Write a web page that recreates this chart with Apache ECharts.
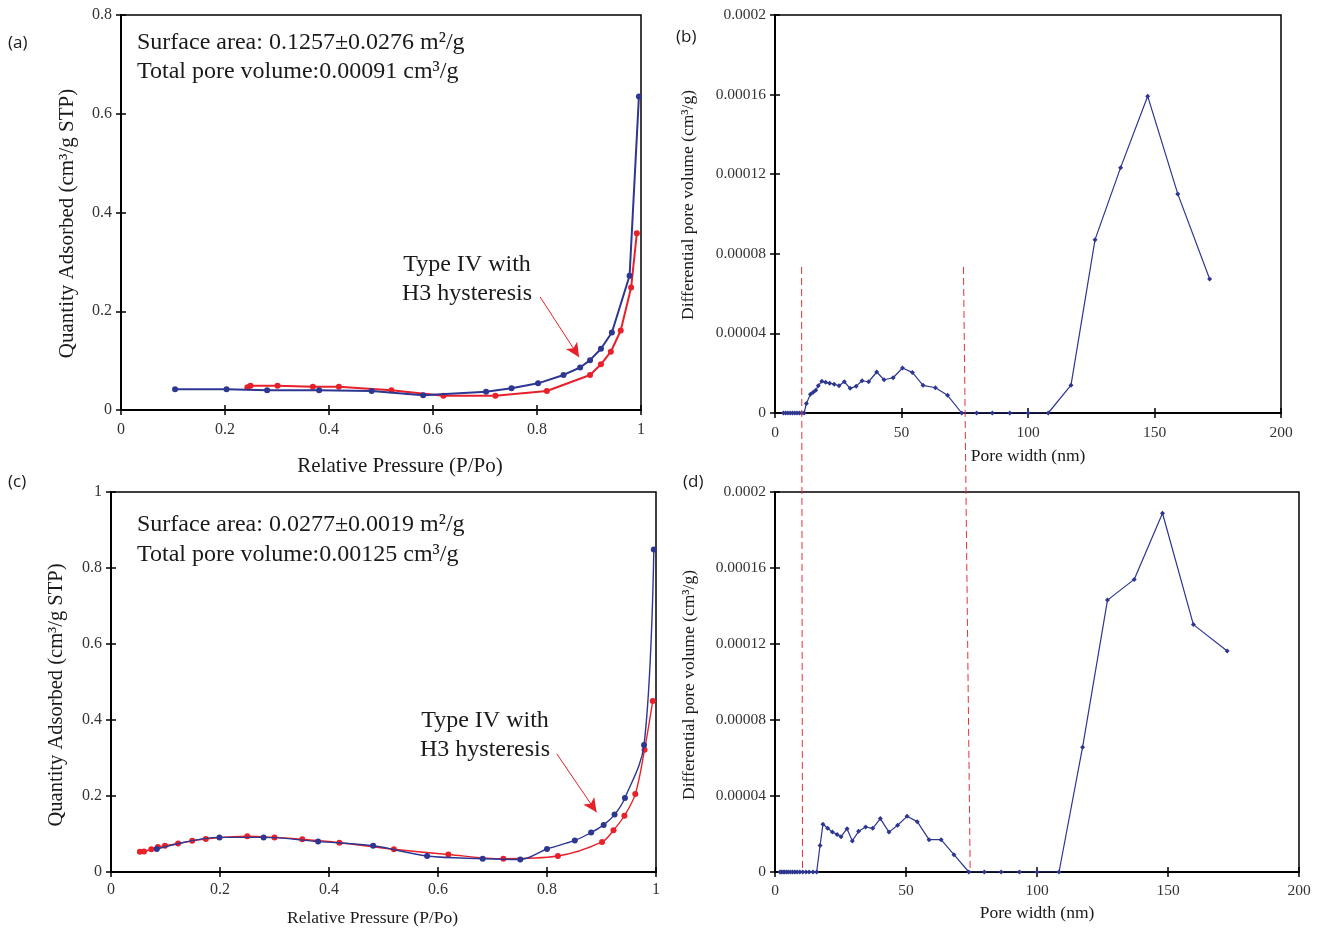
<!DOCTYPE html>
<html>
<head>
<meta charset="utf-8">
<script src="https://cdn.jsdelivr.net/npm/echarts@6/dist/echarts.min.js"></script>
<style>
  html, body { margin: 0; padding: 0; background: #ffffff; }
  #chart { width: 1322px; height: 932px; }
</style>
</head>
<body>
<div id="chart"></div>
<script>
// ---- Sample 1 isotherm (panel a) ----
const isoA_adsP = [0.104, 0.203, 0.281, 0.381, 0.482, 0.581, 0.702, 0.751, 0.802, 0.851, 0.883, 0.902, 0.923, 0.944, 0.978, 0.996];
const isoA_adsQ = [0.042, 0.042, 0.040, 0.040, 0.0385, 0.030, 0.037, 0.044, 0.054, 0.071, 0.086, 0.101, 0.124, 0.157, 0.272, 0.635];
const isoA_desP = [0.992, 0.981, 0.961, 0.942, 0.923, 0.902, 0.819, 0.720, 0.620, 0.520, 0.419, 0.369, 0.301, 0.249, 0.243];
const isoA_desQ = [0.358, 0.248, 0.161, 0.118, 0.0925, 0.071, 0.0385, 0.029, 0.029, 0.040, 0.047, 0.047, 0.049, 0.049, 0.046];

// ---- Sample 2 isotherm (panel c) ----
const isoC_adsP = [0.084, 0.199, 0.280, 0.380, 0.481, 0.580, 0.682, 0.751, 0.800, 0.851, 0.881, 0.904, 0.924, 0.943, 0.978, 0.996];
const isoC_adsQ = [0.0605, 0.091, 0.091, 0.080, 0.069, 0.042, 0.035, 0.033, 0.0605, 0.083, 0.104, 0.124, 0.151, 0.195, 0.334, 0.849];
const isoC_desP = [0.994, 0.979, 0.962, 0.942, 0.922, 0.901, 0.820, 0.720, 0.619, 0.519, 0.419, 0.351, 0.300, 0.250, 0.174, 0.149, 0.123, 0.099, 0.086, 0.074, 0.0606, 0.053];
const isoC_desQ = [0.450, 0.322, 0.205, 0.148, 0.110, 0.079, 0.042, 0.035, 0.046, 0.060, 0.077, 0.086, 0.091, 0.094, 0.087, 0.082, 0.075, 0.069, 0.066, 0.060, 0.054, 0.0535];

// ---- Pore size distributions (panels b, d) ----
const psdB_width = [3.3, 4.2, 5.1, 6.0, 6.9, 7.8, 8.7, 9.6, 10.5, 11.5,
  12.4, 14.0, 15.1, 16.1, 17.1, 18.5, 20.0, 21.6, 23.4, 25.3,
  27.4, 29.7, 32.1, 34.4, 37.0, 40.2, 43.1, 46.7, 50.4, 54.3,
  58.5, 63.4, 68.2, 73.8, 79.7, 85.9, 92.8, 100.1, 108.0,
  117.0, 126.5, 136.6, 147.3, 159.2, 171.8];
const psdB_volume = [0, 0, 0, 0, 0, 0, 0, 0, 0, 0,
  4.8e-6, 9.4e-6, 1.04e-5, 1.14e-5, 1.37e-5, 1.59e-5, 1.54e-5, 1.50e-5, 1.45e-5, 1.37e-5,
  1.57e-5, 1.24e-5, 1.35e-5, 1.62e-5, 1.57e-5, 2.06e-5, 1.67e-5, 1.77e-5, 2.26e-5, 2.04e-5,
  1.39e-5, 1.27e-5, 8.9e-6, 0, 0, 0, 0, 0, 0,
  1.40e-5, 8.71e-5, 1.233e-4, 1.592e-4, 1.101e-4, 6.73e-5];

const psdD_width = [1.9, 2.5, 3.1, 3.7, 4.4, 5.1, 5.9, 6.7, 7.6, 8.5, 9.5, 10.6, 11.8, 13.0, 14.5, 15.9,
  17.2, 18.3, 20.1, 21.9, 23.7, 25.2, 27.5, 29.5, 31.9, 34.6,
  37.3, 40.2, 43.5, 46.8, 50.4, 54.3, 58.8, 63.4, 68.3, 74.0,
  79.9, 86.3, 93.3, 100.0, 108.4,
  117.4, 126.9, 137.1, 147.9, 159.7, 172.6];
const psdD_volume = [0, 0, 0, 0, 0, 0, 0, 0, 0, 0, 0, 0, 0, 0, 0, 0,
  1.40e-5, 2.51e-5, 2.30e-5, 2.10e-5, 1.98e-5, 1.86e-5, 2.28e-5, 1.63e-5, 2.14e-5, 2.37e-5,
  2.30e-5, 2.81e-5, 2.10e-5, 2.46e-5, 2.93e-5, 2.65e-5, 1.70e-5, 1.70e-5, 9.1e-6, 0,
  0, 0, 0, 0, 0,
  6.57e-5, 1.431e-4, 1.540e-4, 1.888e-4, 1.302e-4, 1.163e-4];

// Mesopore window boundaries (nm) and the height where the guides start
const poreWindow = [10.5, 74.5];
const poreWindowTop = 7.34e-5;

// Hysteresis arrows: [start, tip] in data coordinates
const arrowA = [[0.806, 0.229], [0.881, 0.107]];
const arrowC = [[0.818, 0.311], [0.891, 0.157]];

// Text blocks
const infoA = ['Surface area: 0.1257±0.0276 m²/g', 'Total pore volume:0.00091 cm³/g'];
const infoC = ['Surface area: 0.0277±0.0019 m²/g', 'Total pore volume:0.00125 cm³/g'];
const hystText = 'Type IV with\nH3 hysteresis';

const zip = (xs, ys) => xs.map((x, i) => [x, ys[i]]);

const BLUE = '#2d3691';
const RED = '#e8202a';
const INK = '#1a1a1a';
const TICK_INK = '#333333';
const SERIF = '"Liberation Serif", "Times New Roman", serif';
const SANS = '"Open Sans", "Noto Sans", sans-serif';

const grids = [
  { left: 121, top: 15, width: 520, height: 395 },
  { left: 775, top: 15, width: 506, height: 398 },
  { left: 111, top: 492, width: 545, height: 380 },
  { left: 775, top: 492, width: 524, height: 380 }
].map(g => Object.assign(g, {
  show: true, borderColor: '#000', borderWidth: 1.5, backgroundColor: 'transparent',
  containLabel: false, outerBoundsMode: 'none'
}));

const psdFmt = v => v === 0 ? '0' : v.toFixed(5).replace(/0+$/, '');

function nameStyle(size, padding) {
  return { fontFamily: SERIF, fontSize: size, color: INK, padding: padding || 0 };
}
function mainX(idx, min, max, interval, name, nameGap, nameStyleObj, labelSize, labelMargin) {
  return {
    type: 'value', gridIndex: idx, min, max, interval, position: 'bottom',
    name, nameLocation: 'middle', nameGap, nameTextStyle: nameStyleObj,
    axisLine: { show: true, onZero: false, lineStyle: { color: '#000', width: 2 } },
    axisTick: { show: true, inside: false, length: 5, lineStyle: { color: '#000', width: 1.5 } },
    axisLabel: { fontFamily: SERIF, fontSize: labelSize, color: TICK_INK, margin: labelMargin },
    splitLine: { show: false }
  };
}
function mainY(idx, min, max, interval, name, nameGap, nameStyleObj, labelSize, formatter) {
  const label = { fontFamily: SERIF, fontSize: labelSize, color: TICK_INK, margin: 9 };
  if (formatter) label.formatter = formatter;
  return {
    type: 'value', gridIndex: idx, min, max, interval, position: 'left',
    name, nameLocation: 'middle', nameGap, nameTextStyle: nameStyleObj,
    axisLine: { show: true, onZero: false, lineStyle: { color: '#000', width: 2 } },
    axisTick: { show: true, inside: false, length: 5, lineStyle: { color: '#000', width: 1.5 } },
    axisLabel: label,
    splitLine: { show: false }
  };
}
// Inner halves of the crossing tick marks
function tickX(idx, min, max, interval) {
  return { type: 'value', gridIndex: idx, min, max, interval, position: 'bottom',
    axisLine: { show: false }, axisLabel: { show: false }, splitLine: { show: false },
    axisTick: { show: true, inside: true, length: 5, lineStyle: { color: '#000', width: 1.5 } } };
}
function tickY(idx, min, max, interval) {
  return { type: 'value', gridIndex: idx, min, max, interval, position: 'left',
    axisLine: { show: false }, axisLabel: { show: false }, splitLine: { show: false },
    axisTick: { show: true, inside: true, length: 5, lineStyle: { color: '#000', width: 1.5 } } };
}

const xAxes = [
  mainX(0, 0, 1, 0.2, 'Relative Pressure (P/Po)', 46, nameStyle(21, [0, 0, 0, 38]), 16, 12),
  mainX(1, 0, 200, 50, 'Pore width (nm)', 34, nameStyle(17.5), 15.5, 12),
  mainX(2, 0, 1, 0.2, 'Relative Pressure (P/Po)', 37, nameStyle(17.5, [0, 22, 0, 0]), 16, 10),
  mainX(3, 0, 200, 50, 'Pore width (nm)', 32, nameStyle(17.5), 15.5, 11),
  tickX(0, 0, 1, 0.2), tickX(1, 0, 200, 50), tickX(2, 0, 1, 0.2), tickX(3, 0, 200, 50)
];
const yAxes = [
  mainY(0, 0, 0.8, 0.2, 'Quantity Adsorbed (cm³/g STP)', 43, nameStyle(21, [0, 22, 0, 0]), 16),
  mainY(1, 0, 0.0002, 0.00004, 'Differential pore volume (cm³/g)', 78, nameStyle(17.5, [0, 0, 0, 18]), 15.5, psdFmt),
  mainY(2, 0, 1, 0.2, 'Quantity Adsorbed (cm³/g STP)', 44, nameStyle(20.5, [0, 26, 0, 0]), 16),
  mainY(3, 0, 0.0002, 0.00004, 'Differential pore volume (cm³/g)', 77, nameStyle(17.5, [0, 6, 0, 0]), 15.5, psdFmt),
  tickY(0, 0, 0.8, 0.2), tickY(1, 0, 0.0002, 0.00004), tickY(2, 0, 1, 0.2), tickY(3, 0, 0.0002, 0.00004)
];

function arrowMark(pts) {
  return {
    silent: true, symbol: ['none', 'arrow'], symbolSize: [10, 14], precision: 4,
    label: { show: false },
    lineStyle: { color: RED, width: 1, type: 'solid' },
    data: [[{ coord: pts[0] }, { coord: pts[1] }]]
  };
}

const series = [
  { type: 'line', xAxisIndex: 0, yAxisIndex: 0, data: zip(isoA_desP, isoA_desQ), color: RED,
    symbol: 'circle', symbolSize: 6, lineStyle: { width: 2, color: RED }, itemStyle: { color: RED },
    z: 2, markLine: arrowMark(arrowA) },
  { type: 'line', xAxisIndex: 0, yAxisIndex: 0, data: zip(isoA_adsP, isoA_adsQ), color: BLUE,
    symbol: 'circle', symbolSize: 6, lineStyle: { width: 2, color: BLUE }, itemStyle: { color: BLUE }, z: 3 },
  { type: 'line', xAxisIndex: 2, yAxisIndex: 2, data: zip(isoC_desP, isoC_desQ), color: RED, smooth: 0.35,
    symbol: 'circle', symbolSize: 6, lineStyle: { width: 1.4, color: RED }, itemStyle: { color: RED },
    z: 2, markLine: arrowMark(arrowC) },
  { type: 'line', xAxisIndex: 2, yAxisIndex: 2, data: zip(isoC_adsP, isoC_adsQ), color: BLUE, smooth: 0.35,
    symbol: 'circle', symbolSize: 6, lineStyle: { width: 1.4, color: BLUE }, itemStyle: { color: BLUE }, z: 3 },
  { type: 'line', xAxisIndex: 1, yAxisIndex: 1, data: zip(psdB_width, psdB_volume), color: BLUE,
    symbol: 'diamond', symbolSize: 5, lineStyle: { width: 1.2, color: BLUE }, itemStyle: { color: BLUE } },
  { type: 'line', xAxisIndex: 3, yAxisIndex: 3, data: zip(psdD_width, psdD_volume), color: BLUE,
    symbol: 'diamond', symbolSize: 5, lineStyle: { width: 1.2, color: BLUE }, itemStyle: { color: BLUE } }
];

function txt(x, y, text, size, family, extra) {
  return { type: 'text', x, y, silent: true, z: 10,
    style: Object.assign({ text, fontSize: size, fontFamily: family, fill: INK }, extra || {}) };
}

const staticGraphics = [
  txt(8, 35, '(a)', 17, SANS),
  txt(676, 29, '(b)', 17, SANS),
  txt(8, 474, '(c)', 17, SANS),
  txt(683, 474, '(d)', 17, SANS),
  txt(137, 31, infoA[0], 24, SERIF),
  txt(137, 60, infoA[1], 24, SERIF),
  txt(137, 513, infoC[0], 24, SERIF),
  txt(137, 543, infoC[1], 24, SERIF),
  txt(467, 250, hystText, 24, SERIF, { align: 'center', lineHeight: 29 }),
  txt(485, 706, hystText, 24, SERIF, { align: 'center', lineHeight: 29 })
];

const chart = echarts.init(document.getElementById('chart'), null, { renderer: 'canvas' });
chart.setOption({
  animation: false,
  backgroundColor: '#ffffff',
  grid: grids,
  xAxis: xAxes,
  yAxis: yAxes,
  series,
  graphic: staticGraphics
});

// Dashed guides spanning panels (b) and (d) at the mesopore window edges
const guides = poreWindow.map(w => {
  const top = chart.convertToPixel({ xAxisIndex: 1, yAxisIndex: 1 }, [w, poreWindowTop]);
  const bottom = chart.convertToPixel({ xAxisIndex: 3, yAxisIndex: 3 }, [w, 0]);
  return { type: 'line', silent: true, z: 5,
    shape: { x1: top[0], y1: top[1], x2: bottom[0], y2: bottom[1] },
    style: { stroke: '#e8313a', lineWidth: 1, lineDash: [7, 4] } };
});
chart.setOption({ graphic: staticGraphics.concat(guides) });
</script>
</body>
</html>
